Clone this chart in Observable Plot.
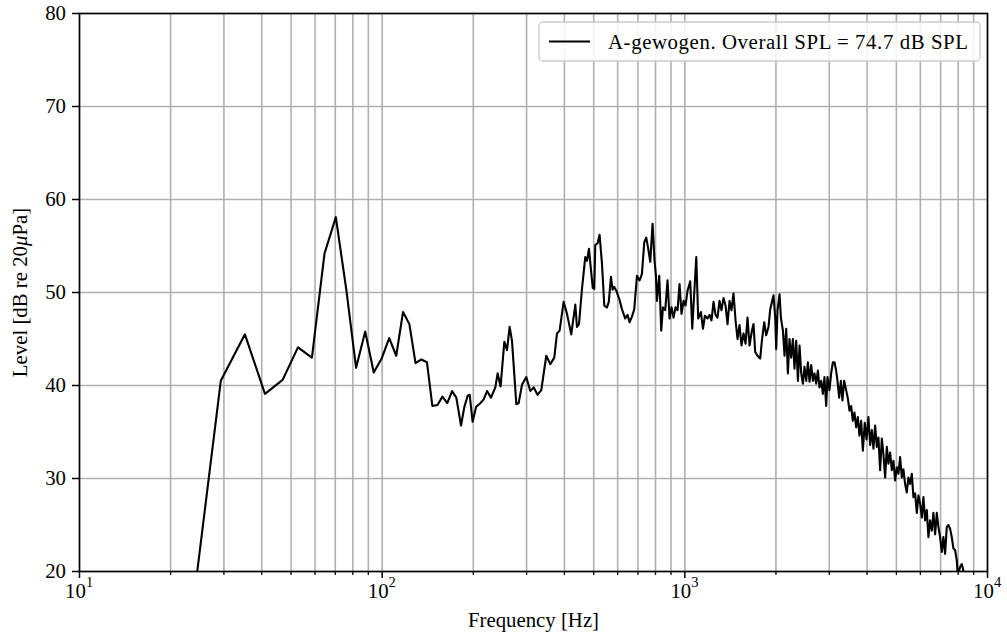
<!DOCTYPE html>
<html>
<head>
<meta charset="utf-8">
<script src="https://cdn.jsdelivr.net/npm/d3@7"></script>
<script src="https://cdn.jsdelivr.net/npm/@observablehq/plot@0.6"></script>
<style>
  html, body { margin: 0; padding: 0; background: #fff; }
  #chart { width: 1007px; height: 636px; }
</style>
</head>
<body>
<div id="chart"></div>
<script>
// A-weighted spectrum: frequency (Hz) and level (dB re 20 µPa)
const freqHz = [
  23.4, 29.3, 35.2, 41.0, 46.9, 52.7, 58.6, 64.5, 70.3, 76.2,
  82.0, 87.9, 93.8, 99.6, 105.5, 111.3, 117.2, 123.0, 128.9, 134.8,
  140.6, 146.5, 152.3, 158.2, 164.1,
  170.2, 175.8, 182.2, 186.9, 191.6, 194.6, 199.0, 204.3, 211.0, 216.4,
  222.1, 228.9, 236.5, 240.7, 246.2, 253.3, 258.5, 263.7, 268.5, 277.5,
  282.4, 289.8, 299.4, 308.6, 316.5, 326.2, 335.5, 348.5, 359.3, 370.4,
  378.1, 385.7, 397.6, 408.0, 421.5, 434.6, 440.2, 447.0, 457.3, 468.9,
  475.0, 482.3, 489.7, 496.4, 502.1, 505.9, 514.9, 522.8, 532.4, 541.8,
  553.0, 560.7, 570.1, 577.1, 584.6, 593.6, 608.6, 619.8, 635.5, 646.8,
  656.7, 668.8, 680.6, 694.7, 708.6, 721.6, 734.4, 745.6, 755.3, 768.7,
  782.2, 794.2, 802.7, 808.8, 823.1, 835.7, 846.6, 861.5, 876.7, 890.2,
  903.8, 917.7, 931.7, 946.0, 960.5, 975.2, 990.2, 1005, 1021, 1042,
  1058, 1074, 1091, 1107, 1130, 1148, 1165, 1189, 1207, 1225,
  1244, 1263, 1282, 1302, 1322, 1342, 1363, 1384, 1405, 1426,
  1448, 1471, 1493, 1516, 1539, 1563, 1587, 1611, 1636, 1666,
  1686, 1708, 1738, 1774, 1797, 1829, 1857, 1890, 1915, 1963,
  1989, 2004, 2024, 2055, 2077, 2109, 2135, 2162, 2190, 2217,
  2246, 2275, 2303, 2333, 2364, 2393, 2424, 2455, 2485, 2518,
  2550, 2582, 2615, 2649, 2682, 2716, 2752, 2785, 2822, 2858,
  2893, 2931, 2960, 3005, 3044, 3084, 3122, 3162, 3194, 3235,
  3277, 3317, 3361, 3412, 3457, 3499, 3544, 3590, 3634, 3682,
  3729, 3775, 3824, 3874, 3930, 3984, 4042, 4095, 4148, 4199,
  4254, 4309, 4362, 4418, 4476, 4531, 4590, 4649, 4706, 4767,
  4829, 4888, 4952, 5016, 5078, 5144, 5211, 5274, 5343, 5412,
  5479, 5550, 5623, 5692, 5766, 5841, 5913, 5990, 6068, 6142,
  6222, 6302, 6380, 6463, 6547, 6627, 6713, 6800, 6883, 6973,
  7063, 7150, 7243, 7337, 7427, 7523, 7621, 7714, 7815, 7916,
  7977, 8118, 8223, 8324, 8432
];
const levelDb = [
  14.8, 40.5, 45.5, 39.1, 40.6, 44.1, 43.0, 54.2, 58.1, 50.2,
  41.9, 45.8, 41.4, 42.9, 45.1, 43.2, 47.9, 46.6, 42.4, 42.8,
  42.5, 37.8, 37.9, 38.8, 38.1,
  39.4, 38.7, 35.7, 37.7, 38.9, 39.0, 36.1, 37.7, 38.1, 38.5,
  39.4, 38.7, 39.8, 41.3, 39.9, 44.7, 43.8, 46.3, 44.8, 38.0,
  38.1, 40.1, 40.9, 39.4, 39.8, 39.0, 39.5, 43.2, 42.3, 43.0,
  45.6, 45.9, 49.0, 47.7, 45.5, 48.7, 46.3, 46.6, 50.4, 53.8,
  53.4, 54.7, 52.4, 50.5, 50.4, 55.1, 55.3, 56.2, 53.1, 48.6,
  48.4, 49.0, 51.7, 50.3, 50.6, 50.2, 49.2, 48.2, 47.2, 47.6,
  46.8, 47.4, 48.2, 51.8, 51.3, 52.0, 55.4, 55.9, 54.9, 53.3,
  57.4, 53.4, 51.8, 49.1, 51.8, 45.9, 48.4, 48.1, 51.3, 47.2,
  48.4, 47.3, 48.4, 48.1, 50.9, 47.7, 49.1, 48.6, 50.2, 51.2,
  46.1, 49.9, 53.8, 47.2, 47.9, 46.1, 47.5, 47.2, 47.6, 47.0,
  49.0, 47.6, 47.3, 49.1, 48.1, 49.4, 48.6, 46.6, 49.1, 48.1,
  49.9, 47.0, 45.0, 46.5, 44.3, 45.6, 44.5, 47.3, 44.3, 45.9,
  46.6, 43.6, 43.2, 42.9, 44.8, 46.8, 45.4, 46.3, 48.2, 49.7,
  47.3, 43.9, 48.1, 49.8, 47.3, 45.9, 43.2, 46.1, 41.3, 45.0,
  43.0, 45.0, 41.8, 44.8, 40.5, 44.3, 41.3, 40.2, 42.0, 40.5,
  42.5, 40.4, 42.2, 40.5, 41.3, 40.2, 41.6, 39.8, 40.5, 39.1,
  40.9, 37.8, 40.9, 39.5, 41.3, 42.5, 42.5, 41.6, 40.5, 38.7,
  40.5, 38.4, 40.5, 39.5, 38.6, 37.3, 37.8, 36.2, 37.1, 35.5,
  36.6, 34.6, 36.2, 33.0, 36.0, 34.2, 36.6, 33.6, 35.2, 33.2,
  35.7, 33.4, 34.4, 30.9, 34.3, 32.6, 30.1, 33.4, 31.6, 32.8,
  30.9, 31.9, 29.8, 31.2, 30.5, 32.3, 30.1, 31.0, 29.4, 28.5,
  30.1, 29.4, 30.5, 28.0, 28.4, 26.3, 28.2, 27.3, 25.8, 28.0,
  25.5, 26.6, 23.7, 25.5, 24.4, 26.3, 24.0, 26.3, 24.8, 23.7,
  22.1, 23.7, 21.9, 24.8, 25.0, 24.6, 23.7, 22.5, 22.3, 21.2,
  19.5, 20.5, 20.8, 20.1, 19.0
];

// Axis ticks and labels
const xMajorTicks = [10, 100, 1000, 10000];
const xTickExponents = ["1", "2", "3", "4"];
const xMinorTicks = [
  20, 30, 40, 50, 60, 70, 80, 90,
  200, 300, 400, 500, 600, 700, 800, 900,
  2000, 3000, 4000, 5000, 6000, 7000, 8000, 9000
];
const yTicks = [20, 30, 40, 50, 60, 70, 80];
const xLabel = "Frequency [Hz]";
const yLabel = "Level [dB re 20μPa]";
const legendLabel = "A-gewogen. Overall SPL = 74.7 dB SPL";

const spectrum = freqHz.map((f, i) => ({f, level: levelDb[i]}));

const FONT = "'Liberation Serif', 'DejaVu Serif', serif";
const FS = 20.8;
const GRID = "#b0b0b0";

const chart = Plot.plot({
  width: 1007,
  height: 636,
  marginLeft: 79,
  marginRight: 20,
  marginTop: 13,
  marginBottom: 65,
  style: {fontFamily: FONT, fontSize: FS + "px", background: "#fff", color: "#000", overflow: "visible"},
  x: {type: "log", domain: [10, 10000]},
  y: {domain: [20, 80]},
  marks: [
    Plot.gridX(xMinorTicks.concat(xMajorTicks), {stroke: GRID, strokeOpacity: 1, strokeWidth: 1.6}),
    Plot.gridY(yTicks, {stroke: GRID, strokeOpacity: 1, strokeWidth: 1.6}),
    Plot.line(spectrum, {x: "f", y: "level", stroke: "#000", strokeWidth: 2.1, clip: true}),
    Plot.axisX(xMinorTicks, {tickSize: 4, tickFormat: () => "", label: null, strokeWidth: 1.3}),
    Plot.axisX(xMajorTicks, {tickSize: 7, tickFormat: () => "", label: null, strokeWidth: 1.5}),
    Plot.text(xMajorTicks, {x: d => d, text: () => "10", frameAnchor: "bottom", dy: 20, dx: -4, fontSize: FS, lineAnchor: "middle"}),
    Plot.text(xMajorTicks, {x: d => d, text: (d, i) => xTickExponents[i], frameAnchor: "bottom", dy: 11, dx: 10, fontSize: 14.5, lineAnchor: "middle"}),
    Plot.axisY(yTicks, {tickSize: 7, tickPadding: 6.5, fontSize: FS, label: null, strokeWidth: 1.5}),
    Plot.text([xLabel], {frameAnchor: "bottom", dy: 49, fontSize: FS, lineAnchor: "middle", textAnchor: "middle"}),
    Plot.text([yLabel], {frameAnchor: "left", dx: -59, rotate: -90, fontSize: FS, lineAnchor: "middle", textAnchor: "middle"}),
    Plot.frame({stroke: "#000", strokeWidth: 1.6})
  ]
});

document.getElementById("chart").appendChild(chart);

// italic mu in the y-axis title
d3.select(chart).selectAll("text").filter(function () { return this.textContent === yLabel; })
  .each(function () {
    const t = d3.select(this);
    t.text(null);
    const [before, after] = yLabel.split("μ");
    t.append("tspan").text(before);
    t.append("tspan").attr("font-style", "italic").text("μ");
    t.append("tspan").text(after);
  });

// legend box in the upper right corner of the frame
const frameRight = 1007 - 20;
const frameTop = 13;
const lg = d3.select(chart).append("g").attr("class", "legend");
const boxW = 441, boxH = 39;
const bx = frameRight - 7 - boxW, by = frameTop + 9;
lg.append("rect")
  .attr("x", bx).attr("y", by).attr("width", boxW).attr("height", boxH)
  .attr("rx", 4).attr("fill", "#fff").attr("fill-opacity", 0.85)
  .attr("stroke", "#cccccc").attr("stroke-width", 1.3);
lg.append("line")
  .attr("x1", bx + 10).attr("x2", bx + 51)
  .attr("y1", by + boxH / 2).attr("y2", by + boxH / 2)
  .attr("stroke", "#000").attr("stroke-width", 2.1);
lg.append("text")
  .attr("x", bx + 69).attr("y", by + boxH / 2).attr("dy", "0.34em")
  .attr("text-anchor", "start")
  .attr("textLength", 360).attr("lengthAdjust", "spacing")
  .attr("font-family", FONT).attr("font-size", FS).attr("fill", "#000")
  .text(legendLabel);
</script>
</body>
</html>
